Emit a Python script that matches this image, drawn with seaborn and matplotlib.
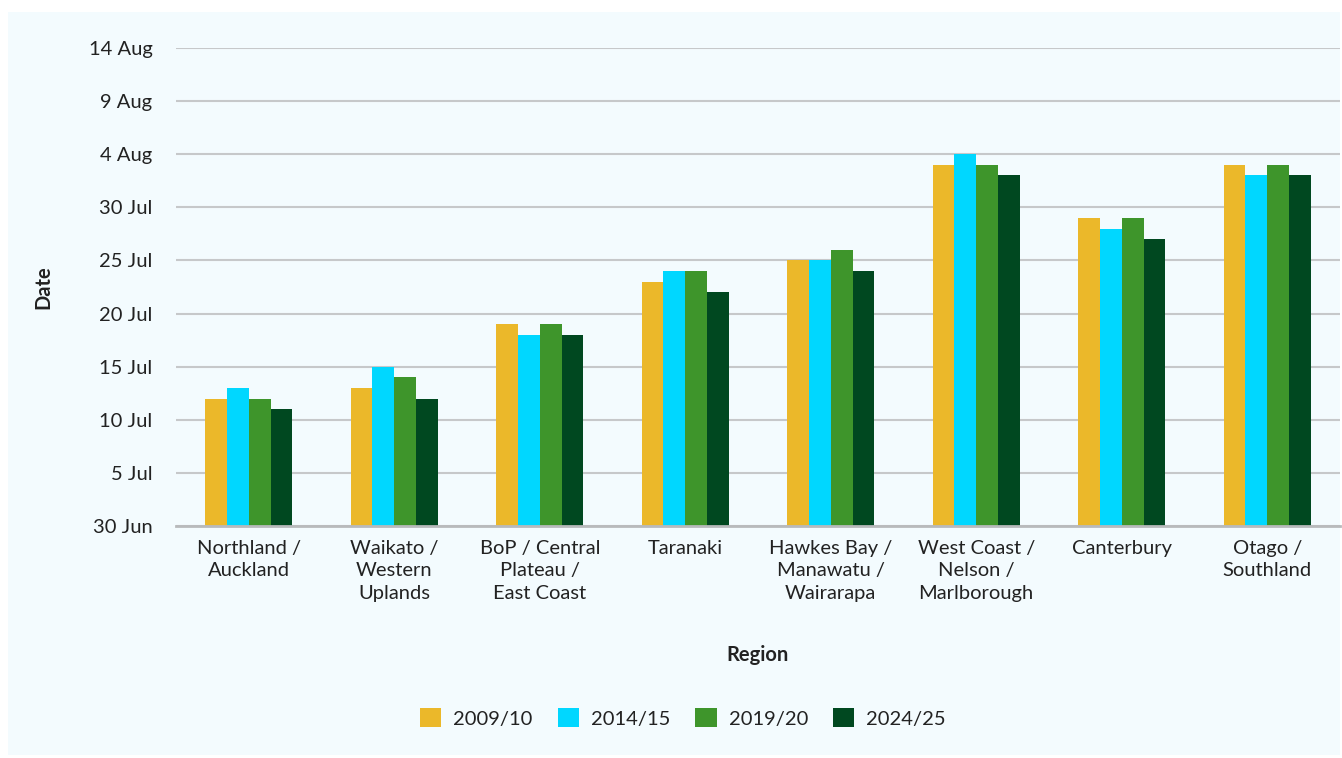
import pandas as pd
import seaborn as sns
import matplotlib.pyplot as plt
from matplotlib.patches import Rectangle

# Data: date each season's value falls on, per region
REGIONS = [
    "Northland /\nAuckland",
    "Waikato /\nWestern\nUplands",
    "BoP / Central\nPlateau /\nEast Coast",
    "Taranaki",
    "Hawkes Bay /\nManawatu /\nWairarapa",
    "West Coast /\nNelson /\nMarlborough",
    "Canterbury",
    "Otago /\nSouthland",
]
SEASONS = ["2009/10", "2014/15", "2019/20", "2024/25"]
S_2009 = ["12 Jul", "13 Jul", "19 Jul", "23 Jul", "25 Jul", "3 Aug", "29 Jul", "3 Aug"]
S_2014 = ["13 Jul", "15 Jul", "18 Jul", "24 Jul", "25 Jul", "4 Aug", "28 Jul", "2 Aug"]
S_2019 = ["12 Jul", "14 Jul", "19 Jul", "24 Jul", "26 Jul", "3 Aug", "29 Jul", "3 Aug"]
S_2024 = ["11 Jul", "12 Jul", "18 Jul", "22 Jul", "24 Jul", "2 Aug", "27 Jul", "2 Aug"]
TICK_LABELS = ["30 Jun", "5 Jul", "10 Jul", "15 Jul", "20 Jul", "25 Jul",
               "30 Jul", "4 Aug", "9 Aug", "14 Aug"]
COLORS = ["#EBB82A", "#00D7FF", "#3E952B", "#004820"]
BG = "#F3FBFE"
TEXT = "#222222"

BASE = pd.Timestamp("2024-06-30")


def days_after_base(label):
    return (pd.to_datetime(f"{label} 2024", format="%d %b %Y") - BASE).days


rows = []
for season, values in zip(SEASONS, [S_2009, S_2014, S_2019, S_2024]):
    for region, v in zip(REGIONS, values):
        rows.append({"Region": region, "Season": season, "Days": days_after_base(v)})
df = pd.DataFrame(rows)
ticks = [days_after_base(t) for t in TICK_LABELS]

sns.set_theme(style="white")
plt.rcParams["font.family"] = ["Lato", "DejaVu Sans"]

W, H = 1342, 758
fig = plt.figure(figsize=(W / 100, H / 100), dpi=100, facecolor="white")
fig.patches.append(Rectangle((8 / W, 3 / H), 1332 / W, 743 / H,
                             transform=fig.transFigure, facecolor=BG,
                             edgecolor="none", zorder=-10))
ax = fig.add_axes([176 / W, 1 - 526 / H, 1164 / W, 478 / H])
ax.patch.set_alpha(0)

sns.barplot(data=df, x="Region", y="Days", hue="Season", hue_order=SEASONS,
            palette=COLORS, width=0.6, gap=0, linewidth=0, saturation=1,
            ax=ax, legend=True)

ax.set_ylim(0, 45)
ax.set_yticks(ticks)
ax.set_yticklabels(TICK_LABELS)
ax.set_xticks(range(len(REGIONS)))
ax.set_xticklabels(REGIONS, linespacing=1.4)
ax.yaxis.grid(True, color="#C6C8CA", linewidth=1.5)
ax.set_axisbelow(True)
for s in ["top", "right", "left"]:
    ax.spines[s].set_visible(False)
ax.spines["bottom"].set_color("#B8BABC")
ax.spines["bottom"].set_linewidth(2)
ax.tick_params(axis="y", length=0, pad=17, labelsize=14.5, labelcolor=TEXT)
ax.tick_params(axis="x", length=0, pad=10, labelsize=14.5, labelcolor=TEXT)
ax.set_xlabel("")
ax.set_ylabel("")
ax.set_xlim(-0.5, len(REGIONS) - 0.5)

fig.text(43 / W, 1 - 287 / H, "Date", rotation=90, ha="center", va="center",
         fontsize=14.5, fontweight="bold", color=TEXT)
fig.text(758 / W, 1 - 655 / H, "Region", ha="center", va="center",
         fontsize=14.5, fontweight="bold", color=TEXT)

handles, labels = ax.get_legend_handles_labels()
ax.get_legend().remove()
fig.legend(handles, labels, loc="center", bbox_to_anchor=(683 / W, 1 - 718 / H),
           ncol=4, frameon=False, fontsize=14.5, handlelength=1.05,
           handleheight=1.05, columnspacing=1.25, handletextpad=0.6,
           labelcolor=TEXT)

fig.savefig("out.png", dpi=100, facecolor="white")
